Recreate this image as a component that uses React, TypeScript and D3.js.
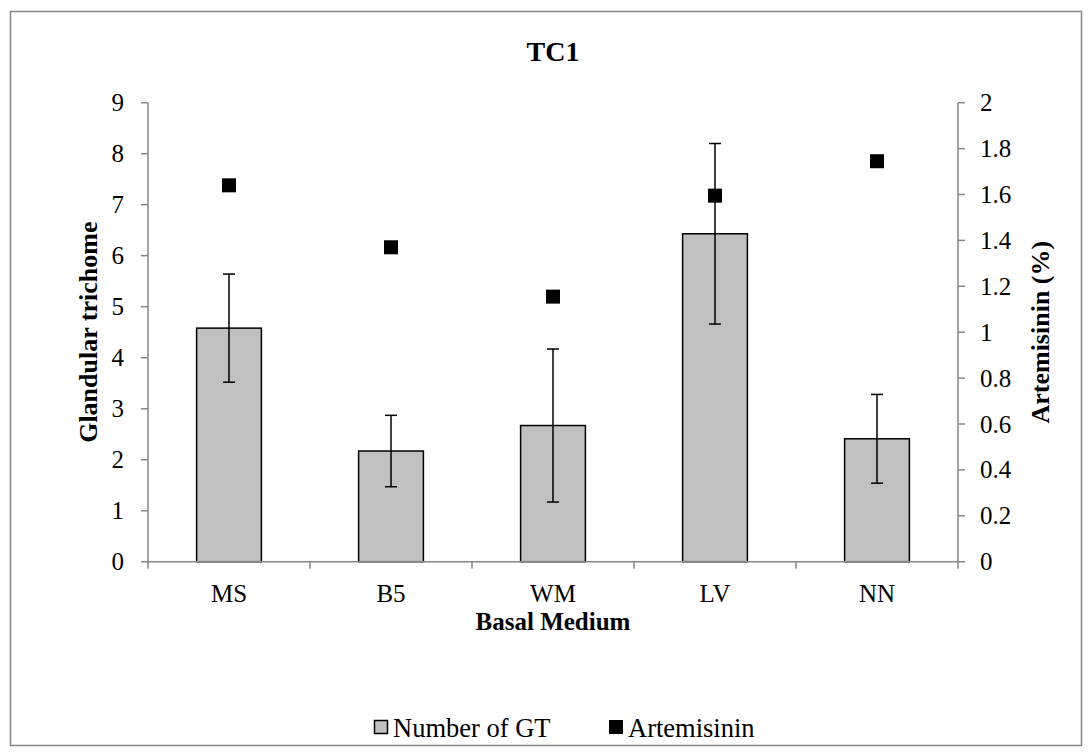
import React from "react";
import * as d3 from "d3";

const categories = ["MS", "B5", "WM", "LV", "NN"];
const gtValues = [4.58, 2.17, 2.67, 6.43, 2.41];
const gtErrors = [1.06, 0.7, 1.5, 1.77, 0.87];
const artemisinin = [1.64, 1.37, 1.155, 1.595, 1.745];
const leftTicks = [0, 1, 2, 3, 4, 5, 6, 7, 8, 9];
const rightTicks = [0, 0.2, 0.4, 0.6, 0.8, 1, 1.2, 1.4, 1.6, 1.8, 2];

const W = 1092;
const H = 753;
const plot = { left: 148, right: 958, top: 102.7, bottom: 561.7 };
const FONT = "'Liberation Serif', 'Times New Roman', serif";
const AXIS = "#868686";

export default function App() {
  const x = d3
    .scaleBand<string>()
    .domain(categories)
    .range([plot.left, plot.right])
    .paddingInner(0.6)
    .paddingOuter(0.3);
  const step = x.step();
  const yL = d3.scaleLinear().domain([0, 9]).range([plot.bottom, plot.top]);
  const yR = d3.scaleLinear().domain([0, 2]).range([plot.bottom, plot.top]);
  const fmt = (v: number) => String(+v.toFixed(1));
  const cx = (c: string) => (x(c) as number) + x.bandwidth() / 2;
  const boundaries = d3.range(categories.length + 1).map((i) => plot.left + i * step);
  const midY = (plot.top + plot.bottom) / 2;
  const mid = (plot.left + plot.right) / 2;

  return (
    <svg
      width={W}
      height={H}
      style={{ position: "absolute", left: 0, top: 0, background: "#fff", fontFamily: FONT }}
    >
      <rect x={0} y={0} width={W} height={H} fill="#fff" />
      <rect x={10.5} y={11.5} width={1071} height={734} fill="none" stroke={AXIS} strokeWidth={1.5} />
      <text x={mid} y={61} textAnchor="middle" fontSize={28} fontWeight="bold">
        TC1
      </text>

      {/* left axis */}
      <line x1={plot.left} x2={plot.left} y1={plot.top} y2={plot.bottom} stroke={AXIS} strokeWidth={1.5} />
      {leftTicks.map((t) => (
        <g key={"l" + t}>
          <line x1={plot.left - 7} x2={plot.left} y1={yL(t)} y2={yL(t)} stroke={AXIS} strokeWidth={1.5} />
          <text x={124} y={yL(t) + 8.5} textAnchor="end" fontSize={25}>
            {t}
          </text>
        </g>
      ))}
      {/* right axis */}
      <line x1={plot.right} x2={plot.right} y1={plot.top} y2={plot.bottom} stroke={AXIS} strokeWidth={1.5} />
      {rightTicks.map((t) => (
        <g key={"r" + t}>
          <line x1={plot.right} x2={plot.right + 7} y1={yR(t)} y2={yR(t)} stroke={AXIS} strokeWidth={1.5} />
          <text x={980} y={yR(t) + 8.5} textAnchor="start" fontSize={25}>
            {fmt(t)}
          </text>
        </g>
      ))}

      {/* bars */}
      {categories.map((c, i) => (
        <rect
          key={"b" + c}
          x={x(c)}
          y={yL(gtValues[i])}
          width={x.bandwidth()}
          height={yL(0) - yL(gtValues[i])}
          fill="#c0c0c0"
          stroke="#000"
          strokeWidth={1.5}
        />
      ))}

      {/* x axis */}
      <line x1={plot.left} x2={plot.right} y1={plot.bottom} y2={plot.bottom} stroke={AXIS} strokeWidth={1.5} />
      {boundaries.map((b, i) => (
        <line key={"xt" + i} x1={b} x2={b} y1={plot.bottom} y2={plot.bottom + 7} stroke={AXIS} strokeWidth={1.5} />
      ))}
      {categories.map((c) => (
        <text key={"xl" + c} x={cx(c)} y={602} textAnchor="middle" fontSize={25}>
          {c}
        </text>
      ))}

      {/* error bars */}
      {categories.map((c, i) => {
        const hi = yL(gtValues[i] + gtErrors[i]);
        const lo = yL(gtValues[i] - gtErrors[i]);
        const px = cx(c);
        return (
          <g key={"e" + c} stroke="#000" strokeWidth={1.5}>
            <line x1={px} x2={px} y1={hi} y2={lo} />
            <line x1={px - 6} x2={px + 6} y1={hi} y2={hi} />
            <line x1={px - 6} x2={px + 6} y1={lo} y2={lo} />
          </g>
        );
      })}

      {/* artemisinin markers */}
      {categories.map((c, i) => (
        <rect key={"m" + c} x={cx(c) - 7} y={yR(artemisinin[i]) - 7} width={14} height={14} fill="#000" />
      ))}

      {/* axis titles */}
      <text x={mid} y={630} textAnchor="middle" fontSize={25} fontWeight="bold">
        Basal Medium
      </text>
      <text
        transform={`translate(97,${midY}) rotate(-90)`}
        textAnchor="middle"
        fontSize={26}
        fontWeight="bold"
      >
        Glandular trichome
      </text>
      <text
        transform={`translate(1049,${midY}) rotate(-90)`}
        textAnchor="middle"
        fontSize={26}
        fontWeight="bold"
      >
        Artemisinin (%)
      </text>

      {/* legend */}
      <rect x={374.5} y={720.5} width={13} height={13} fill="#c0c0c0" stroke="#000" strokeWidth={1.5} />
      <text x={393} y={737} fontSize={26.5}>
        Number of GT
      </text>
      <rect x={609} y={720} width={14} height={14} fill="#000" />
      <text x={628} y={737} fontSize={26.5}>
        Artemisinin
      </text>
    </svg>
  );
}
